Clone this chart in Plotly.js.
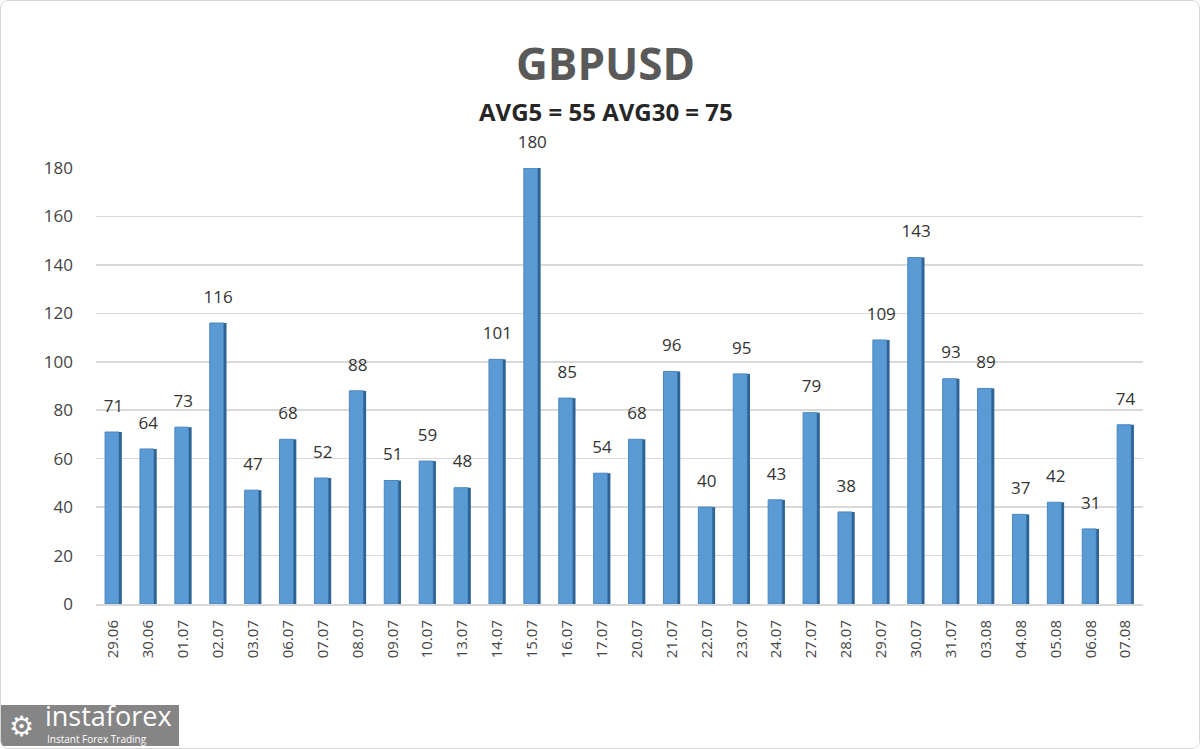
<!DOCTYPE html>
<html>
<head>
<meta charset="utf-8">
<script src="https://cdn.plot.ly/plotly-3.0.1.min.js"></script>
<style>
  body { margin: 0; background: #fff; }
  #wrap { position: relative; width: 1200px; height: 749px; box-sizing: border-box;
          border: 1px solid #d6d6d6; border-radius: 8px; overflow: hidden; }
  #chart { width: 1198px; height: 747px; }
  #logo { position: absolute; left: 0; top: 704px; width: 178px; height: 41px; background: #858585;
          color: #fff; font-family: "Open Sans", sans-serif; }
  #logo span { position: absolute; white-space: nowrap; }
  #logo .big { left: 44px; top: -5px; font-size: 27px; line-height: 31px; }
  #logo .small { left: 46px; top: 28px; font-size: 10px; line-height: 12px; }
  #logo .gear { left: 8px; top: 5px; font-size: 28px; line-height: 30px; }
</style>
</head>
<body>
<div id="wrap">
  <div id="chart"></div>
  <div id="logo"><span class="gear">&#9881;</span><span class="big">instaforex</span><span class="small">Instant Forex Trading</span></div>
</div>
<script>
// daily ranges, points
var dates = ['29.06','30.06','01.07','02.07','03.07','06.07','07.07','08.07','09.07','10.07',
             '13.07','14.07','15.07','16.07','17.07','20.07','21.07','22.07','23.07','24.07',
             '27.07','28.07','29.07','30.07','31.07','03.08','04.08','05.08','06.08','07.08'];
var ranges = [71,64,73,116,47,68,52,88,51,59,
              48,101,180,85,54,68,96,40,95,43,
              79,38,109,143,93,89,37,42,31,74];
var yTicks = [0,20,40,60,80,100,120,140,160,180];

var chartTitle = 'GBPUSD';
var subTitle = 'AVG5 = 55 AVG30 = 75';

// front face
var front = {
  type: 'bar', x: dates, y: ranges,
  width: 0.40, offset: -0.24,
  marker: { color: '#5b9bd5', line: { color: '#4a86c0', width: 1 } },
  hoverinfo: 'none'
};
// darker right side, fakes the 3d look
var side = {
  type: 'bar', x: dates, y: ranges,
  width: 0.08, offset: 0.16,
  marker: { color: '#2e6396', line: { width: 0 } },
  hoverinfo: 'none'
};
// value labels, lifted a bit above the bars
var labels = {
  type: 'scatter', mode: 'markers+text', x: dates, y: ranges,
  text: ranges.map(String),
  textposition: 'top center',
  cliponaxis: false,
  marker: { size: 24, opacity: 0 },
  textfont: { family: 'Open Sans, sans-serif', size: 17, color: '#333' },
  hoverinfo: 'none'
};

var layout = {
  width: 1198,
  height: 747,
  margin: { l: 95, r: 56, t: 167, b: 144 },
  paper_bgcolor: '#fff',
  plot_bgcolor: '#fff',
  barmode: 'overlay',
  showlegend: false,
  font: { family: 'Open Sans, sans-serif', color: '#444' },
  xaxis: {
    type: 'category',
    range: [-0.5, dates.length - 0.5],
    tickangle: -90,
    tickfont: { size: 15, color: '#444' },
    showgrid: false,
    showline: true,
    linecolor: '#d9d9d9',
    linewidth: 2,
    ticks: '',
    ticklabelstandoff: 8
  },
  yaxis: {
    range: [0, 180],
    tickvals: yTicks,
    tickfont: { size: 17, color: '#444' },
    gridcolor: '#d9d9d9',
    gridwidth: 1.5,
    zeroline: false,
    showline: false,
    ticks: '',
    ticklabelstandoff: 22
  },
  annotations: [
    { text: '<b>' + chartTitle + '</b>', xref: 'paper', yref: 'paper', x: 0.487, y: 1.24,
      xanchor: 'center', yanchor: 'middle', showarrow: false,
      font: { family: 'Open Sans, sans-serif', size: 44, color: '#595959' } },
    { text: '<b>' + subTitle + '</b>', xref: 'paper', yref: 'paper', x: 0.487, y: 1.13,
      xanchor: 'center', yanchor: 'middle', showarrow: false,
      font: { family: 'Open Sans, sans-serif', size: 24, color: '#262626' } }
  ]
};

Plotly.newPlot('chart', [front, side, labels], layout, { displayModeBar: false, staticPlot: true });
</script>
</body>
</html>
